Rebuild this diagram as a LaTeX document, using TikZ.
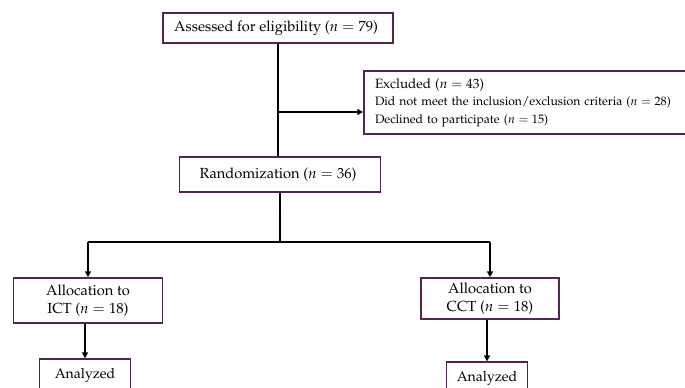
\documentclass[tikz,border=0pt]{standalone}
\usepackage[T1]{fontenc}
\usepackage{mathpazo}
\usepackage{tikz}
\definecolor{boxline}{RGB}{82, 38, 78}
\usetikzlibrary{arrows.meta, positioning, calc}

\begin{document}
\begin{tikzpicture}[
    x=0.03cm, y=-0.03cm,
    flowbox/.style={draw=boxline, line width=1.4pt, fill=white, inner sep=0pt,
                 align=center, font=\fontsize{12.5}{15}\selectfont},
    link/.style={line width=1.3pt, black},
    arrowlink/.style={link, -{Triangle[length=5pt, width=5pt]}}
]
    \useasboundingbox (0,0) rectangle (685,387);
    \clip (0,0) rectangle (685,387);
    \fill[white] (0,0) rectangle (685,387);

    \node[flowbox, minimum width=10.08cm, minimum height=1.89cm, align=left,
          text width=9.42cm, inner xsep=0.27cm,
          font=\fontsize{10.4}{15}\selectfont] (excluded) at (532,102.5) {
        {\fontsize{11.5}{15}\selectfont Excluded ($n = 43$)}\\
        Did not meet the inclusion/exclusion criteria ($n = 28$)\\
        Declined to participate ($n = 15$)
    };

    \node[flowbox, minimum width=6.9cm, minimum height=0.9cm] (assess) at (278,28) {
        Assessed for eligibility ($n = 79$)
    };

    \node[flowbox, minimum width=6.03cm, minimum height=1.05cm] (random) at (280,174.5) {
        Randomization ($n = 36$)
    };

    \node[flowbox, minimum width=4.47cm, minimum height=1.35cm] (ict) at (88,300.5) {
        Allocation to\\ ICT ($n = 18$)
    };

    \node[flowbox, minimum width=4.14cm, minimum height=1.23cm] (cct) at (490,298.5) {
        Allocation to\\ CCT ($n = 18$)
    };

    \node[flowbox, minimum width=2.73cm, minimum height=0.95cm,
          font=\fontsize{12}{14}\selectfont] (analyzedict) at (85,375) {Analyzed};

    \node[flowbox, minimum width=2.43cm, minimum height=0.95cm,
          font=\fontsize{12}{14}\selectfont] (analyzedcct) at (487,378) {Analyzed};

    % Arrows
    \coordinate (excl split) at (277,112);
    \coordinate (branch) at (280,242);
    \draw[link] (assess.south) -- (assess.south |- random.north);
    \draw[arrowlink] (excl split) -- (excluded.west |- excl split);
    \draw[link] (random.south) -- (branch);
    \draw[link] (ict.north |- branch) -- (cct.north |- branch);
    \draw[arrowlink] (ict.north |- branch) -- (ict.north);
    \draw[arrowlink] (cct.north |- branch) -- (cct.north);
    \draw[arrowlink] (analyzedict.north |- ict.south) -- (analyzedict.north);
    \draw[arrowlink] (analyzedcct.north |- cct.south) -- (analyzedcct.north);
\end{tikzpicture}
\end{document}
